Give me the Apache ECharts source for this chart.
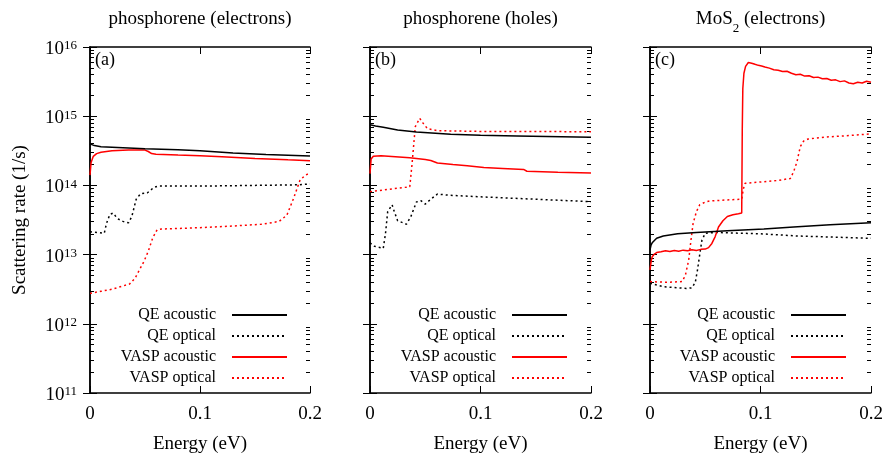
<!DOCTYPE html>
<html>
<head>
<meta charset="utf-8">
<script src="https://cdn.jsdelivr.net/npm/echarts@6/dist/echarts.min.js"></script>
<style>
  html, body { margin: 0; background: #fff; }
  #chart { width: 888px; height: 462px; }
</style>
</head>
<body>
<div id="chart"></div>
<script>
// energy (eV), scattering rate (1/s)
const aQeAcoustic = [[0, 3.98e14], [0.004, 3.76e14], [0.01, 3.63e14], [0.03, 3.51e14], [0.05, 3.39e14], [0.08, 3.27e14], [0.1, 3.16e14], [0.13, 2.95e14], [0.16, 2.79e14], [0.2, 2.66e14]];
const aQeOptical = [[0, 2.14e13], [0.013, 2.04e13], [0.015, 2.82e13], [0.018, 3.80e13], [0.021, 3.98e13], [0.025, 3.31e13], [0.03, 3.02e13], [0.035, 2.88e13], [0.038, 3.55e13], [0.042, 6.31e13], [0.046, 7.59e13], [0.052, 7.76e13], [0.058, 9.33e13], [0.062, 9.77e13], [0.1, 9.77e13], [0.15, 1.0e14], [0.19, 1.02e14], [0.2, 1.05e14]];
const aVaspAcoustic = [[0, 1.41e14], [0.001, 2.14e14], [0.003, 2.63e14], [0.006, 2.88e14], [0.01, 3.02e14], [0.02, 3.16e14], [0.035, 3.24e14], [0.05, 3.24e14], [0.053, 3.09e14], [0.056, 2.88e14], [0.06, 2.82e14], [0.08, 2.75e14], [0.1, 2.69e14], [0.12, 2.60e14], [0.15, 2.45e14], [0.18, 2.34e14], [0.2, 2.28e14]];
const aVaspOptical = [[0, 2.75e12], [0.01, 2.95e12], [0.02, 3.16e12], [0.036, 3.76e12], [0.041, 4.57e12], [0.045, 6.03e12], [0.049, 7.94e12], [0.053, 1.12e13], [0.057, 1.74e13], [0.061, 2.29e13], [0.065, 2.34e13], [0.1, 2.45e13], [0.127, 2.57e13], [0.157, 2.75e13], [0.172, 3.02e13], [0.179, 3.72e13], [0.185, 6.46e13], [0.191, 1.20e14], [0.196, 1.41e14], [0.2, 1.51e14]];

const bQeAcoustic = [[0, 7.5e14], [0.005, 7.24e14], [0.012, 6.92e14], [0.025, 6.31e14], [0.042, 5.89e14], [0.073, 5.50e14], [0.1, 5.31e14], [0.133, 5.19e14], [0.2, 4.95e14]];
const bQeOptical = [[0, 1.48e13], [0.004, 1.32e13], [0.012, 1.23e13], [0.014, 2.0e13], [0.016, 4.17e13], [0.02, 5.25e13], [0.022, 4.17e13], [0.025, 3.09e13], [0.033, 2.75e13], [0.037, 3.55e13], [0.042, 5.75e13], [0.046, 6.03e13], [0.05, 5.37e13], [0.055, 6.31e13], [0.061, 7.5e13], [0.07, 7.24e13], [0.1, 6.84e13], [0.15, 6.31e13], [0.2, 5.82e13]];
const bVaspAcoustic = [[0, 1.48e14], [0.001, 2.40e14], [0.003, 2.63e14], [0.01, 2.69e14], [0.036, 2.51e14], [0.05, 2.37e14], [0.055, 2.29e14], [0.061, 2.11e14], [0.075, 2.0e14], [0.088, 1.93e14], [0.103, 1.82e14], [0.12, 1.76e14], [0.139, 1.70e14], [0.142, 1.60e14], [0.17, 1.55e14], [0.2, 1.51e14]];
const bVaspOptical = [[0, 8.13e13], [0.02, 8.91e13], [0.036, 9.55e13], [0.038, 2.0e14], [0.041, 7.08e14], [0.045, 9.33e14], [0.048, 7.94e14], [0.052, 6.61e14], [0.061, 6.17e14], [0.1, 6.03e14], [0.2, 5.97e14]];

const cQeAcoustic = [[0, 1.175e13], [0.001, 1.38e13], [0.002, 1.48e13], [0.006, 1.72e13], [0.012, 1.86e13], [0.025, 2.0e13], [0.042, 2.09e13], [0.07, 2.21e13], [0.103, 2.34e13], [0.13, 2.51e13], [0.163, 2.69e13], [0.2, 2.88e13]];
const cQeOptical = [[0, 3.85e12], [0.012, 3.44e12], [0.025, 3.31e12], [0.033, 3.24e12], [0.038, 3.31e12], [0.041, 3.98e12], [0.043, 6.03e12], [0.045, 1.0e13], [0.047, 1.62e13], [0.05, 2.04e13], [0.06, 2.09e13], [0.08, 2.04e13], [0.1, 2.0e13], [0.133, 1.86e13], [0.17, 1.78e13], [0.2, 1.72e13]];
const cVaspAcoustic = [[0, 6.03e12], [0.001, 7.94e12], [0.002, 9.33e12], [0.004, 1.02e13], [0.006, 1.07e13], [0.01, 1.10e13], [0.014, 1.135e13], [0.018, 1.11e13], [0.022, 1.15e13], [0.026, 1.12e13], [0.03, 1.16e13], [0.034, 1.135e13], [0.038, 1.175e13], [0.042, 1.15e13], [0.046, 1.19e13], [0.05, 1.20e13], [0.053, 1.26e13], [0.056, 1.45e13], [0.059, 1.82e13], [0.062, 2.51e13], [0.066, 3.09e13], [0.07, 3.55e13], [0.075, 3.76e13], [0.08, 3.89e13], [0.083, 3.98e13], [0.0835, 6.31e14], [0.084, 2.51e15], [0.085, 4.17e15], [0.0865, 5.25e15], [0.089, 5.96e15], [0.092, 5.82e15], [0.095, 5.62e15], [0.098, 5.43e15], [0.101, 5.31e15], [0.104, 5.13e15], [0.108, 4.95e15], [0.112, 4.68e15], [0.116, 4.62e15], [0.12, 4.42e15], [0.124, 4.47e15], [0.128, 4.17e15], [0.132, 3.98e15], [0.136, 4.03e15], [0.14, 3.80e15], [0.144, 3.85e15], [0.148, 3.63e15], [0.152, 3.67e15], [0.156, 3.47e15], [0.16, 3.51e15], [0.164, 3.31e15], [0.168, 3.35e15], [0.172, 3.16e15], [0.176, 3.24e15], [0.18, 3.02e15], [0.184, 2.95e15], [0.188, 3.09e15], [0.192, 3.02e15], [0.196, 3.20e15], [0.2, 3.09e15]];
const cVaspOptical = [[0, 4.07e12], [0.015, 3.98e12], [0.029, 4.07e12], [0.032, 5.01e12], [0.035, 8.32e12], [0.037, 1.58e13], [0.039, 2.82e13], [0.042, 4.17e13], [0.045, 5.25e13], [0.05, 5.75e13], [0.054, 5.96e13], [0.07, 6.17e13], [0.083, 6.31e13], [0.0845, 8.91e13], [0.086, 1.07e14], [0.1, 1.12e14], [0.115, 1.175e14], [0.127, 1.26e14], [0.13, 1.58e14], [0.133, 2.19e14], [0.136, 3.63e14], [0.139, 4.37e14], [0.143, 4.68e14], [0.16, 5.01e14], [0.18, 5.25e14], [0.2, 5.56e14]];

const seriesNames = ['QE acoustic', 'QE optical', 'VASP acoustic', 'VASP optical'];
const panelData = [
  [aQeAcoustic, aQeOptical, aVaspAcoustic, aVaspOptical],
  [bQeAcoustic, bQeOptical, bVaspAcoustic, bVaspOptical],
  [cQeAcoustic, cQeOptical, cVaspAcoustic, cVaspOptical]
];
const panelLabels = ['(a)', '(b)', '(c)'];
const decades = [11, 12, 13, 14, 15, 16];
const minorFactors = [2, 3, 4, 5, 6, 7, 8, 9];

const serif = '"Liberation Serif", "DejaVu Serif", serif';
const lineStyles = [
  { color: '#000', type: 'solid' },
  { color: '#000', type: [2, 3] },
  { color: '#ff0000', type: 'solid' },
  { color: '#ff0000', type: [2, 3] }
];
const gridBoxes = [
  { left: 90, top: 47, width: 220, height: 346 },
  { left: 370, top: 47, width: 221, height: 346 },
  { left: 650, top: 47, width: 221, height: 346 }
];
const legendRight = [600, 320, 41];
const legendTop = [307, 328, 349, 370];

const minorTicks = [];
decades.slice(0, -1).forEach(d => minorFactors.forEach(f => minorTicks.push(f * Math.pow(10, d))));

let chart = echarts.init(document.getElementById('chart'));

let grid = [], xAxis = [], yAxis = [], series = [], legend = [], graphic = [];

const frameLine = { lineStyle: { color: '#000', width: 1.5 } };
const majorTick = { inside: true, length: 7, lineStyle: { color: '#000', width: 1 } };

gridBoxes.forEach((g, i) => {
  grid.push(g);
  // bottom + top x axes
  xAxis.push({
    type: 'value', gridIndex: i, min: 0, max: 0.2, interval: 0.1,
    name: 'Energy (eV)', nameLocation: 'middle', nameGap: 42,
    nameTextStyle: { fontFamily: serif, fontSize: 19, color: '#000' },
    axisLine: frameLine, axisTick: majorTick,
    axisLabel: { margin: 12, fontFamily: serif, fontSize: 19, color: '#000' },
    splitLine: { show: false }
  });
  xAxis.push({
    type: 'value', gridIndex: i, min: 0, max: 0.2, interval: 0.1, position: 'top',
    axisLine: frameLine, axisTick: majorTick,
    axisLabel: { show: false }, splitLine: { show: false }
  });
  // left main, right main, left minor, right minor
  yAxis.push({
    type: 'log', logBase: 10, gridIndex: i, min: 1e11, max: 1e16, position: 'left',
    name: i === 0 ? 'Scattering rate (1/s)' : '', nameLocation: 'middle', nameGap: 60,
    nameTextStyle: { fontFamily: serif, fontSize: 19, color: '#000' },
    axisLine: frameLine, axisTick: majorTick,
    axisLabel: {
      show: i === 0, margin: 13, padding: [4, 0, 0, 0],
      formatter: v => '{b|10}{s|' + Math.round(Math.log10(v)) + '}',
      rich: {
        b: { fontFamily: serif, fontSize: 19, lineHeight: 19, color: '#000', verticalAlign: 'bottom' },
        s: { fontFamily: serif, fontSize: 13, lineHeight: 13, color: '#000', verticalAlign: 'top', padding: [0, 0, 12, 0] }
      }
    },
    splitLine: { show: false }
  });
  yAxis.push({
    type: 'log', logBase: 10, gridIndex: i, min: 1e11, max: 1e16, position: 'right',
    axisLine: frameLine, axisTick: majorTick,
    axisLabel: { show: false }, splitLine: { show: false }
  });
  ['left', 'right'].forEach(pos => {
    yAxis.push({
      type: 'log', logBase: 10, gridIndex: i, min: 1e11, max: 1e16, position: pos,
      axisLine: { show: false },
      axisTick: { inside: true, length: 4, customValues: minorTicks, lineStyle: { color: '#000', width: 1 } },
      axisLabel: { show: false }, splitLine: { show: false }
    });
  });

  panelData[i].forEach((d, j) => {
    series.push({
      name: seriesNames[j], type: 'line', data: d,
      xAxisIndex: 2 * i, yAxisIndex: 4 * i,
      symbol: 'none', smooth: false,
      lineStyle: { color: lineStyles[j].color, type: lineStyles[j].type, width: 1.5 },
      itemStyle: { color: lineStyles[j].color },
      z: j === 0 ? 4 : 3
    });
    legend.push({
      data: [seriesNames[j]], right: legendRight[i], top: legendTop[j],
      align: 'right', padding: 0, itemWidth: 55, itemHeight: 14,
      selectedMode: false,
      itemStyle: { opacity: 0 },
      textStyle: { fontFamily: serif, fontSize: 16, color: '#000', padding: [0, 11, 0, 0] }
    });
  });

  graphic.push({
    type: 'text', left: g.left + 5, top: 51,
    style: { text: panelLabels[i], fontFamily: serif, fontSize: 18, fill: '#000' }
  });
});

const titleRich = {
  t: { fontFamily: serif, fontSize: 19, lineHeight: 19, color: '#000', verticalAlign: 'top' },
  u: { fontFamily: serif, fontSize: 13, lineHeight: 13, color: '#000', verticalAlign: 'top', padding: [12, 0, 0, 0] }
};
const titles = ['{t|phosphorene (electrons)}', '{t|phosphorene (holes)}', '{t|MoS}{u|2}{t| (electrons)}'];
titles.forEach((t, i) => {
  const g = gridBoxes[i];
  graphic.push({
    type: 'text', x: g.left + g.width / 2, y: 10,
    style: { text: t, rich: titleRich, align: 'center', textAlign: 'center', verticalAlign: 'top', textVerticalAlign: 'top' }
  });
});

chart.setOption({
  animation: false,
  backgroundColor: '#fff',
  grid, xAxis, yAxis, series, legend, graphic
});
</script>
</body>
</html>
